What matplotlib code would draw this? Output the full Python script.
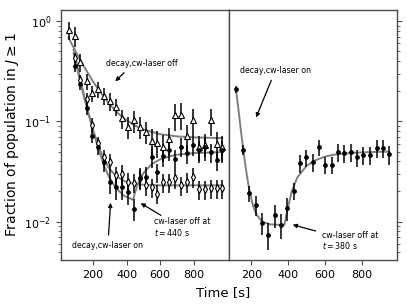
import matplotlib
matplotlib.use("Agg")
import matplotlib.pyplot as plt
import numpy as np

# ---- data ----
# left panel: time grid (s)
t_left = [56, 91, 126, 162, 197, 232, 267, 302, 338, 373, 408, 443, 478, 514,
          549, 584, 619, 654, 690, 725, 760, 795, 830, 866, 901, 936, 971]

# decay, cw-laser off (open triangles)
off_vals = [0.81, 0.71, 0.39, 0.25, 0.19, 0.21, 0.18, 0.16, 0.14, 0.107, 0.088,
            0.102, 0.088, 0.079, 0.064, 0.061, 0.056, 0.066, 0.115, 0.117,
            0.071, 0.102, 0.055, 0.058, 0.102, 0.060, 0.055]
off_err = [0.2, 0.22, 0.2, 0.18, 0.18, 0.18, 0.2, 0.2, 0.2, 0.22, 0.25, 0.25,
           0.25, 0.25, 0.3, 0.3, 0.3, 0.3, 0.3, 0.3, 0.3, 0.3, 0.3, 0.3, 0.3,
           0.3, 0.3]

# decay, cw-laser on (open diamonds), starts at second time
on_vals = [0.43, 0.26, 0.166, 0.093, 0.061, 0.044, 0.039, 0.029, 0.030, 0.025,
           0.0245, 0.027, 0.023, 0.022, 0.019, 0.0246, 0.0246, 0.027, 0.023,
           0.025, 0.028, 0.021, 0.021, 0.0215, 0.0215, 0.0215]
on_err = [0.12, 0.12, 0.15, 0.15, 0.15, 0.18, 0.2, 0.2, 0.22, 0.22, 0.22, 0.22,
          0.22, 0.22, 0.22, 0.22, 0.22, 0.22, 0.22, 0.22, 0.22, 0.22, 0.22,
          0.22, 0.22, 0.22]

# cw-laser off at t = 440 s (filled circles)
sw_vals = [0.355, 0.235, 0.136, 0.072, 0.056, 0.039, 0.025, 0.022, 0.022,
           0.0196, 0.0134, 0.0275, 0.028, 0.044, 0.031, 0.045, 0.052, 0.042,
           0.056, 0.048, 0.058, 0.052, 0.056, 0.049, 0.041, 0.052]
sw_err = [0.12, 0.12, 0.15, 0.15, 0.18, 0.2, 0.25, 0.25, 0.25, 0.25, 0.25,
          0.25, 0.25, 0.22, 0.22, 0.22, 0.22, 0.22, 0.22, 0.22, 0.22, 0.22,
          0.22, 0.22, 0.22, 0.22]

# fit curves, left panel
fit_off_t = [55, 90, 125, 160, 200, 250, 300, 350, 400, 450, 500, 600, 700, 800, 970]
fit_off_v = [0.68, 0.525, 0.409, 0.323, 0.25, 0.189, 0.148, 0.12, 0.1025,
             0.0908, 0.083, 0.0745, 0.0708, 0.0692, 0.068]

fit_on_t = [85, 115, 145, 175, 205, 235, 265, 295, 335, 385, 435, 485, 600, 970]
fit_on_v = [0.475, 0.29, 0.18, 0.116, 0.078, 0.0556, 0.0422, 0.0344, 0.0287,
            0.0254, 0.024, 0.0234, 0.023, 0.023]

fit_sw_t = [85, 115, 145, 175, 205, 235, 265, 295, 335, 385, 440, 450, 470, 500,
            550, 600, 650, 700, 800, 970]
fit_sw_v = [0.515, 0.311, 0.19, 0.118, 0.0763, 0.0514, 0.0367, 0.028, 0.0218,
            0.0181, 0.0165, 0.0194, 0.0244, 0.0304, 0.0374, 0.0418, 0.0446,
            0.0464, 0.0482, 0.0494]

# right panel: cw-laser off at t = 380 s
t_right = [117, 154, 189, 224, 258, 293, 327, 362, 396, 431, 465, 499, 534,
           568, 602, 637, 671, 706, 740, 774, 809, 843, 881, 914, 950]
r_vals = [0.208, 0.052, 0.0193, 0.0146, 0.0097, 0.0074, 0.0116, 0.0093,
          0.0136, 0.0203, 0.0385, 0.0436, 0.039, 0.0556, 0.037, 0.037, 0.0495,
          0.048, 0.049, 0.0436, 0.046, 0.046, 0.054, 0.054, 0.047]
r_err = [0.08, 0.12, 0.18, 0.22, 0.25, 0.3, 0.25, 0.28, 0.25, 0.2, 0.2, 0.2,
         0.2, 0.18, 0.2, 0.2, 0.2, 0.2, 0.2, 0.2, 0.2, 0.2, 0.2, 0.2, 0.22]

fit_r_t = [117, 130, 145, 160, 175, 190, 210, 230, 260, 300, 340, 380, 400,
           420, 450, 500, 550, 600, 650, 700, 800, 900, 950]
fit_r_v = [0.208, 0.133, 0.0773, 0.0466, 0.0297, 0.0205, 0.0143, 0.0116, 0.01,
           0.0094, 0.0093, 0.0093, 0.014, 0.02, 0.0275, 0.036, 0.041, 0.0445,
           0.0465, 0.0477, 0.049, 0.0497, 0.0499]

# ---- figure ----
fig = plt.figure(figsize=(4.07, 3.06), dpi=100)
axL = fig.add_axes([61 / 407, 46 / 306, 168 / 407, 250 / 306])
axR = fig.add_axes([229 / 407, 46 / 306, 168 / 407, 250 / 306], sharey=axL)

line_c = '0.5'
frame_c = '0.3'
ebkw = dict(ecolor='black', elinewidth=1.1, capsize=0, mec='black', mew=0.8,
            linestyle='none', zorder=3)


def rel_err(v, f):
    v = np.asarray(v)
    f = np.asarray(f)
    return v * f


axL.plot(fit_off_t, fit_off_v, color=line_c, lw=1.4, zorder=2)
axL.plot(fit_on_t, fit_on_v, color=line_c, lw=1.4, zorder=2)
axL.plot(fit_sw_t, fit_sw_v, color=line_c, lw=1.4, zorder=2)

axL.errorbar(t_left, off_vals, yerr=rel_err(off_vals, off_err), fmt='^',
             mfc='white', ms=3.8, **ebkw)
axL.errorbar(t_left[1:], on_vals, yerr=rel_err(on_vals, on_err), fmt='d',
             mfc='white', ms=3.6, **ebkw)
axL.errorbar(t_left[1:], sw_vals, yerr=rel_err(sw_vals, sw_err), fmt='o',
             mfc='black', ms=2.6, **ebkw)

axR.plot(fit_r_t, fit_r_v, color=line_c, lw=1.4, zorder=2)
axR.errorbar(t_right, r_vals, yerr=rel_err(r_vals, r_err), fmt='o',
             mfc='black', ms=2.6, **ebkw)

axL.set_yscale('log')
axL.set_ylim(0.00414, 1.29)
axL.set_xlim(10, 1010)
axR.set_xlim(79, 992)

for ax in (axL, axR):
    ax.set_xticks([200, 400, 600, 800])
    ax.tick_params(axis='both', which='both', labelsize=8, color=frame_c)
    for s in ax.spines.values():
        s.set_color(frame_c)
        s.set_linewidth(1.0)

axL.yaxis.set_ticks_position('both')
axR.yaxis.tick_right()
axR.tick_params(axis='y', which='both', labelright=False, labelleft=False)

axL.set_ylabel('Fraction of population in $J \\geq 1$', fontsize=10, labelpad=2)
fig.text(222.7 / 407, (306 - 292.7) / 306, 'Time [s]', fontsize=9.5,
         ha='center', va='center')

fs = 5.7
akw = dict(arrowstyle='-|>', color='black', lw=0.9, mutation_scale=6)

# left annotations
axL.text(0.482, 0.788, 'decay,cw-laser off', transform=axL.transAxes,
         fontsize=fs, ha='center', va='center')
axL.annotate('', xy=(0.311, 0.707), xytext=(0.387, 0.757),
             xycoords='axes fraction', textcoords='axes fraction', arrowprops=akw)

axL.text(0.277, 0.057, 'decay,cw-laser on', transform=axL.transAxes,
         fontsize=fs, ha='center', va='center')
axL.annotate('', xy=(0.296, 0.24), xytext=(0.282, 0.089),
             xycoords='axes fraction', textcoords='axes fraction', arrowprops=akw)

axL.text(0.554, 0.129, 'cw-laser off at\n$t = 440$ s', transform=axL.transAxes,
         fontsize=fs, ha='left', va='center', linespacing=1.1)
axL.annotate('', xy=(0.460, 0.233), xytext=(0.609, 0.173),
             xycoords='axes fraction', textcoords='axes fraction', arrowprops=akw)

# right annotations
axR.text(0.278, 0.757, 'decay,cw-laser on', transform=axR.transAxes,
         fontsize=fs, ha='center', va='center')
axR.annotate('', xy=(0.155, 0.56), xytext=(0.258, 0.729),
             xycoords='axes fraction', textcoords='axes fraction', arrowprops=akw)

axR.text(0.552, 0.076, 'cw-laser off at\n$t = 380$ s', transform=axR.transAxes,
         fontsize=fs, ha='left', va='center', linespacing=1.1)
axR.annotate('', xy=(0.363, 0.144), xytext=(0.532, 0.113),
             xycoords='axes fraction', textcoords='axes fraction', arrowprops=akw)

fig.savefig('out.png', dpi=100)
